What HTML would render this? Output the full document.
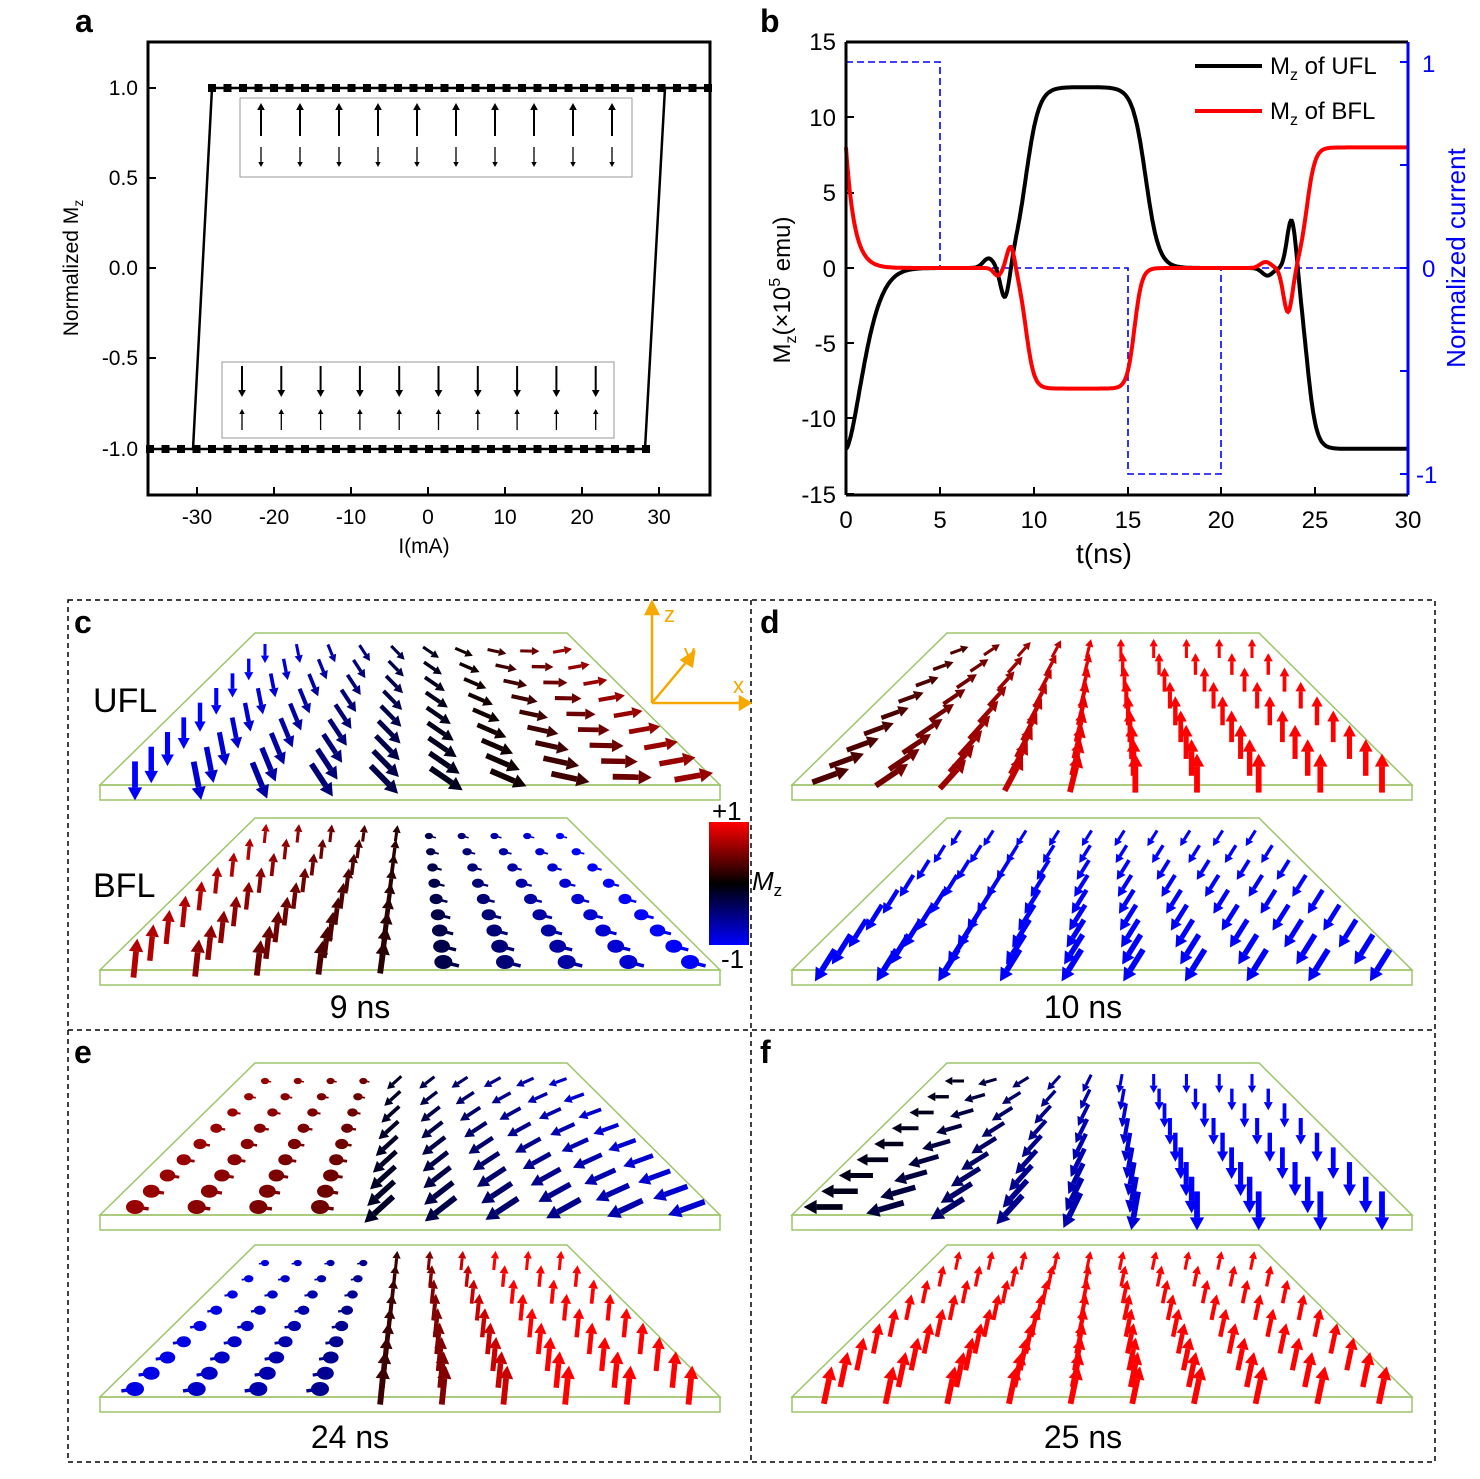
<!DOCTYPE html>
<html><head><meta charset="utf-8"><style>
html,body{margin:0;padding:0;background:#fff}
svg{display:block;font-family:"Liberation Sans",sans-serif}
</style></head><body>
<svg id="s" width="1480" height="1479" viewBox="0 0 1480 1479" xmlns="http://www.w3.org/2000/svg">
<defs>
<linearGradient id="cb" x1="0" y1="0" x2="0" y2="1">
<stop offset="0" stop-color="#ff0000"/><stop offset="0.5" stop-color="#000"/><stop offset="1" stop-color="#0000ff"/>
</linearGradient>
</defs>
<text x="75" y="32" font-size="32" font-weight="bold">a</text>
<rect x="148" y="42" width="562" height="453" fill="none" stroke="#000" stroke-width="3"/>
<g font-size="21" text-anchor="end">
<text x="138" y="95">1.0</text><text x="138" y="185">0.5</text><text x="138" y="275">0.0</text><text x="138" y="365">-0.5</text><text x="138" y="456">-1.0</text>
</g>
<g font-size="21" text-anchor="middle">
<text x="197" y="524">-30</text><text x="274" y="524">-20</text><text x="351" y="524">-10</text><text x="428" y="524">0</text><text x="505" y="524">10</text><text x="582" y="524">20</text><text x="659" y="524">30</text>
<text x="424" y="553">I(mA)</text>
</g>
<text transform="translate(78,268) rotate(-90)" font-size="21" text-anchor="middle">Normalized M<tspan font-size="14" dy="5">z</tspan></text>
<g stroke="#000" stroke-width="2" id="aticks"></g>
<line x1="193" y1="449" x2="212" y2="88" stroke="#000" stroke-width="2.5"/>
<line x1="645" y1="449" x2="665" y2="88" stroke="#000" stroke-width="2.5"/>
<line x1="212" y1="88" x2="708" y2="88" stroke="#000" stroke-width="2.5"/>
<line x1="150" y1="449" x2="645" y2="449" stroke="#000" stroke-width="2.5"/>
<g id="sq"></g>
<rect x="240" y="98" width="392" height="79" fill="#fff" stroke="#999" stroke-width="1"/>
<rect x="222" y="362" width="392" height="76" fill="#fff" stroke="#999" stroke-width="1"/>
<g id="inset"></g>

<text x="760" y="32" font-size="32" font-weight="bold">b</text>
<g font-size="24" text-anchor="end">
<text x="836" y="50">15</text><text x="836" y="126">10</text><text x="836" y="201">5</text><text x="836" y="277">0</text><text x="836" y="352">-5</text><text x="836" y="427">-10</text><text x="836" y="503">-15</text>
</g>
<g font-size="24" text-anchor="middle">
<text x="846" y="528">0</text><text x="940" y="528">5</text><text x="1034" y="528">10</text><text x="1128" y="528">15</text><text x="1221" y="528">20</text><text x="1315" y="528">25</text><text x="1408" y="528">30</text>
<text x="1104" y="563" font-size="28">t(ns)</text>
</g>
<text transform="translate(790,290) rotate(-90)" font-size="24" text-anchor="middle">M<tspan font-size="16" dy="6">z</tspan><tspan dy="-6">(×10</tspan><tspan font-size="16" dy="-10">5</tspan><tspan dy="10"> emu)</tspan></text>
<g font-size="24" fill="#0000ff">
<text x="1422" y="72">1</text><text x="1422" y="277">0</text><text x="1416" y="483">-1</text>
<text transform="translate(1465,258) rotate(-90)" text-anchor="middle" font-size="26">Normalized current</text>
</g>
<g id="bticks"></g>
<path id="blue" fill="none" stroke="#0000ff" stroke-width="1.6" stroke-dasharray="7,4"/>
<path id="blk" fill="none" stroke="#000" stroke-width="4"/>
<path id="red" fill="none" stroke="#ff0000" stroke-width="4"/>
<line x1="846" y1="42" x2="846" y2="495" stroke="#000" stroke-width="3"/>
<line x1="846" y1="495" x2="1408" y2="495" stroke="#000" stroke-width="3"/>
<line x1="846" y1="42" x2="1408" y2="42" stroke="#000" stroke-width="3"/>
<line x1="1408" y1="42" x2="1408" y2="495" stroke="#0000ff" stroke-width="3"/>
<line x1="1195" y1="66" x2="1262" y2="66" stroke="#000" stroke-width="4"/>
<line x1="1195" y1="111" x2="1262" y2="111" stroke="#ff0000" stroke-width="4"/>
<text x="1270" y="74" font-size="24">M<tspan font-size="16" dy="6">z</tspan><tspan dy="-6"> of UFL</tspan></text>
<text x="1270" y="119" font-size="24">M<tspan font-size="16" dy="6">z</tspan><tspan dy="-6"> of BFL</tspan></text>

<g fill="none" stroke="#000" stroke-width="1.5" stroke-dasharray="5,4">
<rect x="68" y="600" width="1367" height="862"/>
<line x1="751" y1="600" x2="751" y2="1462"/>
<line x1="68" y1="1030" x2="1435" y2="1030"/>
</g>
<g id="plates"></g>
<g font-size="32" font-weight="bold">
<text x="74" y="633">c</text><text x="760" y="633">d</text><text x="74" y="1063">e</text><text x="760" y="1063">f</text>
</g>
<g font-size="34"><text x="93" y="712">UFL</text><text x="93" y="897">BFL</text></g>
<g font-size="32" text-anchor="middle">
<text x="360" y="1018">9 ns</text><text x="1083" y="1018">10 ns</text><text x="350" y="1448">24 ns</text><text x="1083" y="1448">25 ns</text>
</g>
<g stroke="#f5a800" stroke-width="2.5" fill="#f5a800">
<line x1="652" y1="703" x2="652" y2="610"/><polygon points="646,614 658,614 652,602"/>
<line x1="652" y1="703" x2="742" y2="703"/><polygon points="740,697 740,709 750,703"/>
<line x1="652" y1="703" x2="688" y2="660"/><polygon points="682,660 692,666 694,652"/>
</g>
<g fill="#f5a800" font-size="22"><text x="664" y="622">z</text><text x="684" y="660">y</text><text x="733" y="693">x</text></g>
<rect x="709" y="822" width="40" height="123" fill="url(#cb)"/>
<text x="712" y="820" font-size="26">+1</text>
<text x="721" y="968" font-size="26">-1</text>
<text x="752" y="890" font-size="26" font-style="italic">M<tspan font-size="17" dy="6" font-style="normal">z</tspan></text>
</svg>
<script>
var NS="http://www.w3.org/2000/svg";
function el(p,t,a){var e=document.createElementNS(NS,t);for(var k in a)e.setAttribute(k,a[k]);p.appendChild(e);return e;}
var at=document.getElementById('aticks');
[88,178,268,358,449].forEach(function(y){el(at,'line',{x1:148,y1:y,x2:156,y2:y});});
[197,274,351,428,505,582,659].forEach(function(x){el(at,'line',{x1:x,y1:495,x2:x,y2:487});});
var sq=document.getElementById('sq');
for(var x=212;x<=709;x+=15.5)el(sq,'rect',{x:x-4,y:84,width:8,height:8,fill:'#000'});
for(var x=150;x<=646;x+=15.5)el(sq,'rect',{x:x-4,y:445,width:8,height:8,fill:'#000'});
var ins=document.getElementById('inset');
function arr(gp,x1,y1,x2,y2,w,h,col){
 el(gp,'line',{x1:x1,y1:y1,x2:x2,y2:y2,stroke:col,'stroke-width':w});
 var dx=x2-x1,dy=y2-y1,L=Math.hypot(dx,dy)||1,ux=dx/L,uy=dy/L;
 el(gp,'polygon',{points:(x2+ux*h)+','+(y2+uy*h)+' '+(x2-uy*h*0.55)+','+(y2+ux*h*0.55)+' '+(x2+uy*h*0.55)+','+(y2-ux*h*0.55),fill:col});
}
for(var i=0;i<10;i++){var xx=261+i*39;arr(ins,xx,136,xx,110,2,7,'#000');arr(ins,xx,147,xx,162,1.3,5,'#000');}
for(var i=0;i<10;i++){var xx=242+i*39.3;arr(ins,xx,366,xx,390,2,7,'#000');arr(ins,xx,430,xx,414,1.3,5,'#000');}
var bt=document.getElementById('bticks');
[42,117,193,268,343,418,494].forEach(function(y){el(bt,'line',{x1:846,y1:y,x2:854,y2:y,stroke:'#000','stroke-width':2});});
[846,940,1034,1128,1221,1315,1408].forEach(function(x){el(bt,'line',{x1:x,y1:495,x2:x,y2:487,stroke:'#000','stroke-width':2});});
[62,165,268,371,474].forEach(function(y){el(bt,'line',{x1:1408,y1:y,x2:1400,y2:y,stroke:'#0000ff','stroke-width':2});});
function X(t){return 846+t*18.73;} function Y(v){return 268-v*15.07;}
function path(id,f){var P=[];for(var t=0;t<=30.001;t+=0.05)P.push(X(t).toFixed(1)+','+Y(f(t)).toFixed(1));document.getElementById(id).setAttribute('d','M'+P.join(' L'));}
function gs(t,c,w){var q=(t-c)/w;return Math.exp(-q*q);}
function sig(t,c,w){return 1/(1+Math.exp(-(t-c)/w));}
path('blk',function(t){var v=-12*Math.exp(-Math.pow(t/1.3,1.6));
 v+=0.6*gs(t,7.6,0.4)-2.4*gs(t,8.5,0.35);
 v+=12*sig(t,9.6,0.35)*(1-sig(t,16.0,0.35));
 v+=-0.5*gs(t,22.5,0.4)+3.6*gs(t,23.8,0.35);
 v+=-12*sig(t,24.6,0.25);
 return v;});
path('red',function(t){var v=8*Math.exp(-t/0.45);
 v+=-0.5*gs(t,8.1,0.3)+1.6*gs(t,8.8,0.3);
 v+=-8*sig(t,9.6,0.22)*(1-sig(t,15.4,0.2));
 v+=0.4*gs(t,22.4,0.4)-3*gs(t,23.6,0.35);
 v+=8*sig(t,24.6,0.22);
 return v;});
document.getElementById('blue').setAttribute('d','M846,62 L940,62 L940,268 L1128,268 L1128,474 L1221,474 L1221,268 L1408,268');
var pl=document.getElementById('plates');
function cmap(m){m=Math.max(-1,Math.min(1,m));return m>=0?'rgb('+Math.round(255*m)+',0,0)':'rgb(0,0,'+Math.round(-255*m)+')';}
function plate(ox,oy,f){
 var bl=[ox+155,oy],br=[ox+467,oy],fr=[ox+620,oy+152],fl=[ox,oy+152];
 el(pl,'polygon',{points:bl+' '+br+' '+fr+' '+fl,fill:'none',stroke:'#9dc56a','stroke-width':1.5});
 el(pl,'polygon',{points:fl+' '+fr+' '+fr[0]+','+(fr[1]+15)+' '+fl[0]+','+(fl[1]+15),fill:'none',stroke:'#9dc56a','stroke-width':1.5});
 var rows=9,cols=10;
 for(var r=0;r<rows;r++){
  var v=r/(rows-1);
  var y=oy+18+v*126;
  var xl=ox+165+(35-165)*v, xr=ox+460+(590-460)*v;
  var sc=0.45+0.55*v;
  for(var c=0;c<cols;c++){
   var u=c/(cols-1);
   var x=xl+(xr-xl)*u;
   var d=f(u),dx=d[0],dy=d[1],m=d[2];
   var L=26*sc;
   var col=cmap(m);
   if(Math.hypot(dx,dy)<0.5){el(pl,'ellipse',{cx:x,cy:y,rx:9*sc,ry:7*sc,fill:col});el(pl,'line',{x1:x,y1:y,x2:x+dx*L*1.5,y2:y+dy*L*1.5,stroke:col,'stroke-width':3.5*sc});}
   else arr(pl,x-dx*L*0.6,y-dy*L*0.6,x+dx*L*0.4,y+dy*L*0.4,5*sc+0.8,10*sc+3,col);
  }
 }
}
function ang(th){var r=th*Math.PI/180;return [Math.cos(r),-Math.sin(r)];}
plate(100,633,function(u){var a=ang(-90+100*u);return [a[0],a[1],Math.max(-1,-1+1.6*u)];});
plate(100,818,function(u){if(u<0.5){return [0.1,-(1-u*0.6),0.7-1.2*u];}return [0.4,0.1,-0.2-1.6*(u-0.5)];});
plate(792,633,function(u){var a=ang(20+70*Math.min(1,u*1.8));return [a[0],a[1],Math.min(1,0.3+1.4*u)];});
plate(792,818,function(u){return [-0.5,0.8,-1];});
plate(100,1063,function(u){if(u<0.4)return [0.35,0.05,0.6-0.5*u];var a=ang(200+(1-u)*40);return [a[0],a[1],-0.1-1.2*(u-0.4)];});
plate(100,1245,function(u){if(u<0.35)return [-0.35,0.05,-0.9+u];return [0.1,-1,Math.min(1,(u-0.35)*2.5)];});
plate(792,1063,function(u){var a=ang(180+90*Math.min(1,u*1.6));return [a[0],a[1],-0.1-0.9*Math.min(1,u*1.5)];});
plate(792,1245,function(u){return [0.2,-0.95,1];});
</script>
</body></html>
